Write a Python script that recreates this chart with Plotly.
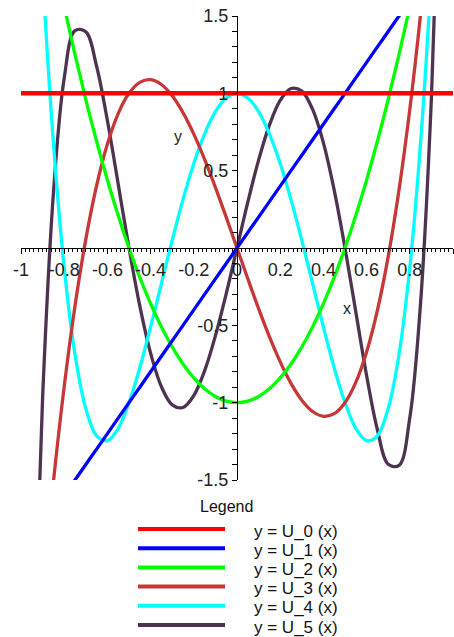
import plotly.graph_objects as go

# Chebyshev polynomials of the second kind, U_0 .. U_5, sampled on [-1, 1]
x_vals = [-1.00, -0.95, -0.90, -0.85, -0.80, -0.75, -0.70, -0.65, -0.60, -0.55,
          -0.50, -0.45, -0.40, -0.35, -0.30, -0.25, -0.20, -0.15, -0.10, -0.05,
          0.00, 0.05, 0.10, 0.15, 0.20, 0.25, 0.30, 0.35, 0.40, 0.45,
          0.50, 0.55, 0.60, 0.65, 0.70, 0.75, 0.80, 0.85, 0.90, 0.95, 1.00]

u0 = [1.0, 1.0, 1.0, 1.0, 1.0, 1.0, 1.0, 1.0, 1.0, 1.0,
      1.0, 1.0, 1.0, 1.0, 1.0, 1.0, 1.0, 1.0, 1.0, 1.0,
      1.0, 1.0, 1.0, 1.0, 1.0, 1.0, 1.0, 1.0, 1.0, 1.0,
      1.0, 1.0, 1.0, 1.0, 1.0, 1.0, 1.0, 1.0, 1.0, 1.0, 1.0]

u1 = [-2.0, -1.9, -1.8, -1.7, -1.6, -1.5, -1.4, -1.3, -1.2, -1.1,
      -1.0, -0.9, -0.8, -0.7, -0.6, -0.5, -0.4, -0.3, -0.2, -0.1,
      0.0, 0.1, 0.2, 0.3, 0.4, 0.5, 0.6, 0.7, 0.8, 0.9,
      1.0, 1.1, 1.2, 1.3, 1.4, 1.5, 1.6, 1.7, 1.8, 1.9, 2.0]

u2 = [3.0, 2.61, 2.24, 1.89, 1.56, 1.25, 0.96, 0.69, 0.44, 0.21,
      0.0, -0.19, -0.36, -0.51, -0.64, -0.75, -0.84, -0.91, -0.96, -0.99,
      -1.0, -0.99, -0.96, -0.91, -0.84, -0.75, -0.64, -0.51, -0.36, -0.19,
      0.0, 0.21, 0.44, 0.69, 0.96, 1.25, 1.56, 1.89, 2.24, 2.61, 3.0]

u3 = [-4.0, -3.059, -2.232, -1.513, -0.896, -0.375, 0.056, 0.403, 0.672, 0.869,
      1.0, 1.071, 1.088, 1.057, 0.984, 0.875, 0.736, 0.573, 0.392, 0.199,
      0.0, -0.199, -0.392, -0.573, -0.736, -0.875, -0.984, -1.057, -1.088, -1.071,
      -1.0, -0.869, -0.672, -0.403, -0.056, 0.375, 0.896, 1.513, 2.232, 3.059, 4.0]

u4 = [5.0, 3.202, 1.778, 0.682, -0.126, -0.688, -1.038, -1.214, -1.246, -1.166,
      -1.0, -0.774, -0.510, -0.230, 0.050, 0.3125, 0.546, 0.738, 0.882, 0.970,
      1.0, 0.970, 0.882, 0.738, 0.546, 0.3125, 0.050, -0.230, -0.510, -0.774,
      -1.0, -1.166, -1.246, -1.214, -1.038, -0.688, -0.126, 0.682, 1.778, 3.202, 5.0]

u5 = [-6.0, -3.025, -0.968, 0.353, 1.098, 1.406, 1.398, 1.175, 0.824, 0.413,
      0.0, -0.374, -0.680, -0.896, -1.014, -1.031, -0.954, -0.794, -0.568, -0.296,
      0.0, 0.296, 0.568, 0.794, 0.954, 1.031, 1.014, 0.896, 0.680, 0.374,
      0.0, -0.413, -0.824, -1.175, -1.398, -1.406, -1.098, -0.353, 0.968, 3.025, 6.0]

series_names = ["y = U_0 (x)", "y = U_1 (x)", "y = U_2 (x)",
                "y = U_3 (x)", "y = U_4 (x)", "y = U_5 (x)"]
series_values = [u0, u1, u2, u3, u4, u5]
series_colors = ["#ff0000", "#0000ff", "#00ff00", "#c83737", "#00ffff", "#4d3350"]

x_ticks = [-1.0, -0.8, -0.6, -0.4, -0.2, 0.0, 0.2, 0.4, 0.6, 0.8, 1.0]
x_tick_labels = ["-1", "-0.8", "-0.6", "-0.4", "-0.2", "0", "0.2", "0.4", "0.6", "0.8", "1"]
y_ticks = [-1.5, -1.0, -0.5, 0.5, 1.0, 1.5]
y_tick_labels = ["-1.5", "-1", "-0.5", "0.5", "1", "1.5"]

# figure geometry in pixels
W, H = 454, 637
ML, MR, MT, MB = 21, 1, 16, 157
PW, PH = W - ML - MR, H - MT - MB


def px_x(px):
    return (px - ML) / PW


def px_y(py):
    return (H - MB - py) / PH


FONT = "Liberation Sans, Arial, sans-serif"

fig = go.Figure()

# draw the highest order first so U_0 ends up on top
for name, vals, col in reversed(list(zip(series_names, series_values, series_colors))):
    fig.add_trace(go.Scatter(
        x=x_vals, y=vals, mode="lines", name=name,
        line=dict(color=col, width=4.5 if name.endswith("0 (x)") else 3.3,
                  shape="spline", smoothing=1.0),
        showlegend=False, hoverinfo="skip",
    ))

axis_common = dict(
    showline=True, linecolor="black", linewidth=1.2,
    ticks="outside", ticklen=5, tickwidth=1, tickcolor="black",
    showgrid=False, zeroline=False, anchor="free", position=0.5,
    tickfont=dict(family=FONT, size=18, color="#222222"),
    tickmode="array",
)

fig.update_layout(
    width=W, height=H, autosize=False,
    margin=dict(l=ML, r=MR, t=MT, b=MB, pad=0),
    paper_bgcolor="white", plot_bgcolor="white",
    xaxis=dict(range=[-1, 1], tickvals=x_ticks, ticktext=x_tick_labels,
               minor=dict(tickmode="linear", tick0=0, dtick=0.02, ticks="outside",
                          ticklen=3, tickcolor="black", showgrid=False),
               **axis_common),
    yaxis=dict(range=[-1.5, 1.5], tickvals=y_ticks, ticktext=y_tick_labels,
               minor=dict(tickmode="linear", tick0=0, dtick=0.1, ticks="outside",
                          ticklen=5, tickcolor="black", showgrid=False),
               **axis_common),
    showlegend=False,
)

# axis names
fig.add_annotation(x=0.51, y=-0.39, xref="x", yref="y", text="x", showarrow=False,
                   font=dict(family=FONT, size=16, color="#222222"))
fig.add_annotation(x=-0.275, y=0.72, xref="x", yref="y", text="y", showarrow=False,
                   font=dict(family=FONT, size=16, color="#222222"))

# legend block below the plot
fig.add_annotation(x=px_x(226), y=px_y(507), xref="paper", yref="paper",
                   text="Legend", showarrow=False, xanchor="center", yanchor="middle",
                   font=dict(family=FONT, size=16, color="#111111"))
for i, (name, col) in enumerate(zip(series_names, series_colors)):
    ly = 529 + 19.2 * i
    fig.add_shape(type="line", xref="paper", yref="paper",
                  x0=px_x(138), x1=px_x(225), y0=px_y(ly), y1=px_y(ly),
                  line=dict(color=col, width=4))
    fig.add_annotation(x=px_x(252), y=px_y(ly + 2), xref="paper", yref="paper",
                       text=name, showarrow=False, xanchor="left", yanchor="middle",
                       font=dict(family=FONT, size=17, color="#111111"))

fig.write_html("out.html")
